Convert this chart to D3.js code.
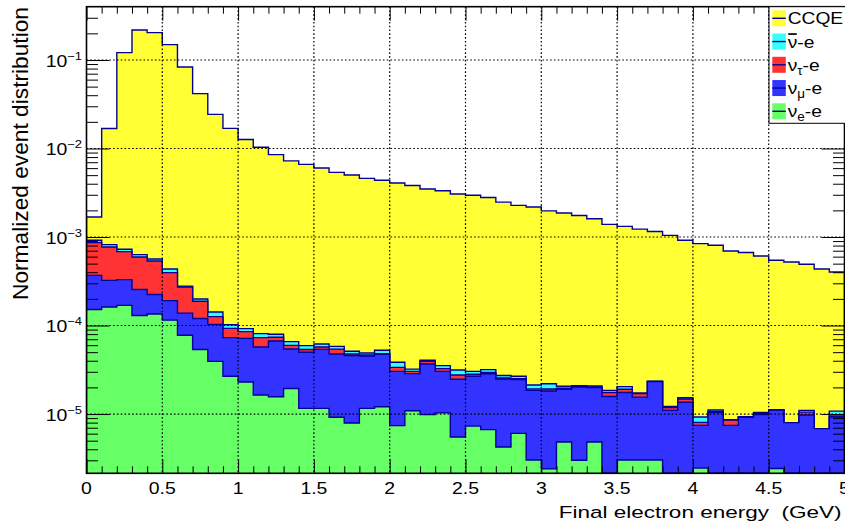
<!DOCTYPE html>
<html>
<head>
<meta charset="utf-8">
<script src="https://cdn.jsdelivr.net/npm/d3@7"></script>
<style>
  html, body { margin: 0; padding: 0; background: #fff; }
  svg { display: block; font-family: "Liberation Sans", Arial, Helvetica, sans-serif; }
  text { white-space: pre; }
</style>
</head>
<body>
<svg id="chart" width="845" height="529"></svg>
<script>
// Lower edges of the 0.1 GeV energy bins (0 - 5 GeV)
const binLow = [0.0, 0.1, 0.2, 0.3, 0.4, 0.5, 0.6, 0.7, 0.8, 0.9,
                1.0, 1.1, 1.2, 1.3, 1.4, 1.5, 1.6, 1.7, 1.8, 1.9,
                2.0, 2.1, 2.2, 2.3, 2.4, 2.5, 2.6, 2.7, 2.8, 2.9,
                3.0, 3.1, 3.2, 3.3, 3.4, 3.5, 3.6, 3.7, 3.8, 3.9,
                4.0, 4.1, 4.2, 4.3, 4.4, 4.5, 4.6, 4.7, 4.8, 4.9];
const binWidth = 0.1;

// Normalized event distributions per channel (stacked, bottom to top)
const nueE = [1.52e-4, 1.62e-4, 1.69e-4, 1.30e-4, 1.35e-4, 1.15e-4, 7.75e-5, 5.35e-5, 3.94e-5, 2.67e-5,
              2.30e-5, 1.64e-5, 1.57e-5, 1.94e-5, 1.16e-5, 1.16e-5, 9.18e-6, 7.91e-6, 1.16e-5, 1.21e-5,
              7.40e-6, 1.09e-5, 9.84e-6, 1.03e-5, 5.50e-6, 7.31e-6, 6.67e-6, 4.24e-6, 6.05e-6, 3.02e-6,
              2.40e-6, 4.83e-6, 3.00e-6, 4.83e-6, 0, 3.02e-6, 3.02e-6, 3.02e-6, 0, 0,
              2.45e-6, 0, 0, 0, 0, 2.42e-6, 0, 0, 0, 0];
const numuE = [2.17e-4, 1.62e-4, 1.61e-4, 1.25e-4, 8.9e-5, 7.6e-5, 6.05e-5, 6.65e-5, 6.36e-5, 4.63e-5,
               4.86e-5, 4.07e-5, 5.11e-5, 3.48e-5, 3.82e-5, 4.22e-5, 3.84e-5, 3.78e-5, 3.36e-5, 3.52e-5,
               2.29e-5, 1.77e-5, 2.69e-5, 2.00e-5, 1.92e-5, 1.94e-5, 2.19e-5, 2.06e-5, 1.85e-5, 1.55e-5,
               1.58e-5, 1.42e-5, 1.72e-5, 1.51e-5, 1.58e-5, 1.45e-5, 1.25e-5, 2.02e-5, 1.10e-5, 1.36e-5,
               5.0e-6, 1.04e-5, 7.45e-6, 9.18e-6, 9.84e-6, 8.68e-6, 8.0e-6, 9.75e-6, 6.84e-6, 9.25e-6];
const nutauE = [4.96e-4, 4.47e-4, 3.54e-4, 3.39e-4, 3.12e-4, 2.05e-4, 1.34e-4, 6.8e-5, 2.3e-5, 1.99e-5,
                1.37e-5, 1.59e-5, 6.8e-6, 5.5e-6, 3.7e-6, 3.3e-6, 6.6e-6, 1.9e-6, 1.2e-6, 8e-7,
                3.4e-6, 1.7e-6, 2.7e-6, 2.3e-6, 2.9e-6, 1.4e-6, 1.0e-6, 7e-7, 6e-7, 7e-7,
                1.0e-6, 5e-7, 2e-7, 3e-7, 1.7e-6, 1.5e-6, 1.5e-6, 1e-7, 8e-7, 1.2e-6,
                6e-7, 2e-7, 1.1e-6, 7e-8, 2.6e-7, 5e-8, 0, 7.5e-7, 0, 2.4e-7];
const nubarE = [5.3e-5, 5.0e-5, 4.2e-5, 3.8e-5, 2.8e-5, 3.9e-5, 7e-6, 1.1e-5, 1.6e-5, 9.1e-6,
                7.0e-6, 7.9e-6, 6.0e-6, 6.1e-6, 5.8e-6, 4.7e-6, 4.0e-6, 3.5e-6, 2.5e-6, 4.4e-6,
                4.7e-6, 1.9e-6, 1.0e-6, 2.6e-6, 3.8e-6, 2.2e-6, 2.2e-6, 1.7e-6, 1.6e-6, 2.1e-6,
                2.8e-6, 1.1e-6, 5e-7, 5e-7, 1.0e-6, 1.4e-6, 3e-7, 1e-7, 4e-7, 5e-7,
                1.2e-6, 5e-7, 1e-7, 1e-7, 3e-7, 5e-8, 0, 5e-7, 0, 1.3e-6];
const ccqe = [7.62e-4, 1.598e-2, 0.1203, 0.2174, 0.2034, 0.1486, 0.0831, 0.0415, 0.02416, 0.0168,
              0.01253, 0.01024, 8.45e-3, 7.19e-3, 6.56e-3, 5.97e-3, 5.32e-3, 4.97e-3, 4.55e-3, 4.32e-3,
              4.03e-3, 3.78e-3, 3.44e-3, 3.30e-3, 3.03e-3, 2.93e-3, 2.76e-3, 2.45e-3, 2.25e-3, 2.16e-3,
              1.95e-3, 1.85e-3, 1.73e-3, 1.59e-3, 1.37e-3, 1.30e-3, 1.21e-3, 1.13e-3, 1.03e-3, 9.03e-4,
              8.33e-4, 7.95e-4, 6.86e-4, 6.58e-4, 6.00e-4, 5.35e-4, 5.14e-4, 4.81e-4, 4.28e-4, 3.92e-4];

// Axis ticks and labels
const xMajorTicks = [0, 0.5, 1, 1.5, 2, 2.5, 3, 3.5, 4, 4.5, 5];
const xTickLabels = ["0", "0.5", "1", "1.5", "2", "2.5", "3", "3.5", "4", "4.5", "5"];
const yDecades = [1e-5, 1e-4, 1e-3, 1e-2, 1e-1];
const yDecadeExp = ["\u22125", "\u22124", "\u22123", "\u22122", "\u22121"];
const yRange = [2.14e-6, 0.4];
const xRange = [0, 5];

// Stack layers, bottom to top
const layers = [
  { key: "nue",   values: nueE,   color: "#66ff66", sym: "e" },
  { key: "numu",  values: numuE,  color: "#3333ff", sym: "\u03bc" },
  { key: "nutau", values: nutauE, color: "#ff3333", sym: "\u03c4" },
  { key: "nubar", values: nubarE, color: "#33ffff", sym: "bar" },
  { key: "ccqe",  values: ccqe,   color: "#ffff33", sym: "CCQE" }
];
const lineColor = "#000099";

const svg = d3.select("#chart");
const W = 845, H = 529;
const m = { left: 86.5, right: 844.5, top: 6.7, bottom: 473.3 };

const x = d3.scaleLinear().domain(xRange).range([m.left, m.right]);
const y = d3.scaleLog().domain(yRange).range([m.bottom, m.top]).clamp(true);

svg.append("rect").attr("width", W).attr("height", H).attr("fill", "#fff");

// Horizontal stretch so a text element spans the given width
function fitWidth(sel, width) {
  const len = sel.node().getComputedTextLength();
  return len > 0 ? width / len : 1;
}

// Build stacked rows
const rows = binLow.map((lo, i) => {
  const r = { lo: lo, hi: lo + binWidth };
  layers.forEach(l => { r[l.key] = l.values[i]; });
  return r;
});
const stacked = d3.stack().keys(layers.map(l => l.key))(rows);

const clipId = "plotclip";
svg.append("clipPath").attr("id", clipId)
  .append("rect").attr("x", m.left).attr("y", m.top)
  .attr("width", m.right - m.left).attr("height", m.bottom - m.top);

const plot = svg.append("g").attr("clip-path", `url(#${clipId})`);

function yv(v) { return v > yRange[0] ? y(v) : m.bottom; }

// Step points of a cumulative histogram
function stepPoints(series) {
  const pts = [];
  series.forEach(d => {
    pts.push([d.data.lo, d[1]]);
    pts.push([d.data.hi, d[1]]);
  });
  return pts;
}

const area = d3.area()
  .x(p => x(p[0]))
  .y0(m.bottom + 2)
  .y1(p => yv(p[1]));
const outline = d3.line()
  .x(p => x(p[0]))
  .y(p => yv(p[1]));

// Draw cumulative histograms from the top of the stack down
for (let k = stacked.length - 1; k >= 0; k--) {
  const s = stacked[k];
  const pts = stepPoints(s);
  plot.append("path").attr("d", area(pts))
    .attr("fill", layers[k].color).attr("stroke", "none");
  const full = [[xRange[0], 0]].concat(pts, [[xRange[1], 0]]);
  plot.append("path").attr("d", outline(full))
    .attr("fill", "none").attr("stroke", lineColor).attr("stroke-width", 1.4);
}

// Grid (dotted)
const grid = svg.append("g").attr("stroke", "#000").attr("stroke-width", 1.2)
  .attr("stroke-dasharray", "1.6,2.2");
xMajorTicks.slice(1, -1).forEach(v => {
  grid.append("line").attr("x1", x(v)).attr("x2", x(v)).attr("y1", m.top).attr("y2", m.bottom);
});
yDecades.forEach(v => {
  grid.append("line").attr("x1", m.left).attr("x2", m.right).attr("y1", y(v)).attr("y2", y(v));
});

// Ticks (inward, on all four sides)
const xMinor = d3.range(0, 51).map(i => i / 10).filter(v => Math.abs(v * 2 - Math.round(v * 2)) > 1e-6);
const yMinor = [];
[1e-6, 1e-5, 1e-4, 1e-3, 1e-2, 1e-1].forEach(d => {
  for (let k = 2; k <= 9; k++) {
    const v = d * k;
    if (v > yRange[0] && v < yRange[1]) yMinor.push(v);
  }
});

function axisGroup(axis, tx, ty) {
  const g = svg.append("g").attr("transform", `translate(${tx},${ty})`).call(axis);
  g.select(".domain").remove();
  g.selectAll(".tick line").attr("stroke", "#000").attr("stroke-width", 1);
  g.selectAll(".tick text").remove();
  return g;
}
const xMajLen = 14, xMinLen = 7, yMajLen = 23, yMinLen = 11.5;
axisGroup(d3.axisTop(x).tickValues(xMajorTicks).tickSize(xMajLen), 0, m.bottom);
axisGroup(d3.axisTop(x).tickValues(xMinor).tickSize(xMinLen), 0, m.bottom);
axisGroup(d3.axisBottom(x).tickValues(xMajorTicks).tickSize(xMajLen), 0, m.top);
axisGroup(d3.axisBottom(x).tickValues(xMinor).tickSize(xMinLen), 0, m.top);
axisGroup(d3.axisRight(y).tickValues(yDecades).tickSize(yMajLen), m.left, 0);
axisGroup(d3.axisRight(y).tickValues(yMinor).tickSize(yMinLen), m.left, 0);
axisGroup(d3.axisLeft(y).tickValues(yDecades).tickSize(yMajLen), m.right, 0);
axisGroup(d3.axisLeft(y).tickValues(yMinor).tickSize(yMinLen), m.right, 0);

// Frame
svg.append("rect").attr("x", m.left).attr("y", m.top)
  .attr("width", m.right - m.left).attr("height", m.bottom - m.top)
  .attr("fill", "none").attr("stroke", "#000").attr("stroke-width", 1.6);

// X tick labels (common stretch taken from the "0.5" label width)
const tickFont = 16.5;
const probe = svg.append("text").attr("font-size", tickFont).text("0.5");
const tickSx = fitWidth(probe, 27);
probe.remove();
xMajorTicks.forEach((v, i) => {
  svg.append("text")
    .attr("transform", `translate(${x(v)},493.5) scale(${tickSx},1)`)
    .attr("text-anchor", "middle").attr("font-size", tickFont).attr("fill", "#000")
    .text(xTickLabels[i]);
});

// Y tick labels: 10^n
yDecades.forEach((v, i) => {
  const t = svg.append("text")
    .attr("transform", `translate(82,${y(v) + 6.7}) scale(${tickSx},1)`)
    .attr("text-anchor", "end").attr("font-size", tickFont).attr("fill", "#000");
  t.append("tspan").text("10");
  t.append("tspan").attr("font-size", 11).attr("dy", -7).text(yDecadeExp[i]);
});

// Axis titles
const xTitle = svg.append("text")
  .attr("text-anchor", "end").attr("font-size", 17).attr("fill", "#000")
  .text("Final electron energy  (GeV)");
xTitle.attr("transform", `translate(841.5,517.5) scale(${fitWidth(xTitle, 283)},1)`);
const yTitle = svg.append("text")
  .attr("text-anchor", "end").attr("font-size", 22.5).attr("fill", "#000")
  .text("Normalized event distribution");
yTitle.attr("transform", `translate(28,7) rotate(-90) scale(${fitWidth(yTitle, 293)},1)`);

// Legend
const leg = svg.append("g");
leg.append("rect").attr("x", 769).attr("y", m.top).attr("width", 80).attr("height", 123.3 - m.top)
  .attr("fill", "#fff").attr("stroke", "#000").attr("stroke-width", 1);
const legOrder = [4, 3, 2, 1, 0];
const legFont = 17.2;
const legProbe = svg.append("text").attr("font-size", legFont).text("CCQE");
const legSx = fitWidth(legProbe, 55.5);
legProbe.remove();
legOrder.forEach((li, r) => {
  const l = layers[li];
  const cy = 18.3 + r * 23.25;
  leg.append("rect").attr("x", 772.3).attr("y", cy - 8).attr("width", 13.5).attr("height", 16)
    .attr("fill", l.color);
  leg.append("line").attr("x1", 772.3).attr("x2", 785.8).attr("y1", cy).attr("y2", cy)
    .attr("stroke", lineColor).attr("stroke-width", 1.4);
  const t = leg.append("text")
    .attr("transform", `translate(787.7,${cy + 6}) scale(${legSx},1)`)
    .attr("font-size", legFont).attr("fill", "#000");
  if (l.sym === "CCQE") {
    t.text("CCQE");
  } else if (l.sym === "bar") {
    const nu = t.append("tspan").text("\u03bd");
    t.append("tspan").text("-e");
    const w = nu.node().getComputedTextLength();
    leg.append("line")
      .attr("transform", `translate(787.7,${cy + 6}) scale(${legSx},1)`)
      .attr("x1", 0.5).attr("x2", w - 0.5).attr("y1", -13.5).attr("y2", -13.5)
      .attr("stroke", "#000").attr("stroke-width", 1.7);
  } else {
    t.append("tspan").text("\u03bd");
    t.append("tspan").attr("font-size", 12).attr("dy", 4).text(l.sym);
    t.append("tspan").attr("dy", -4).text("-e");
  }
});
</script>
</body>
</html>
